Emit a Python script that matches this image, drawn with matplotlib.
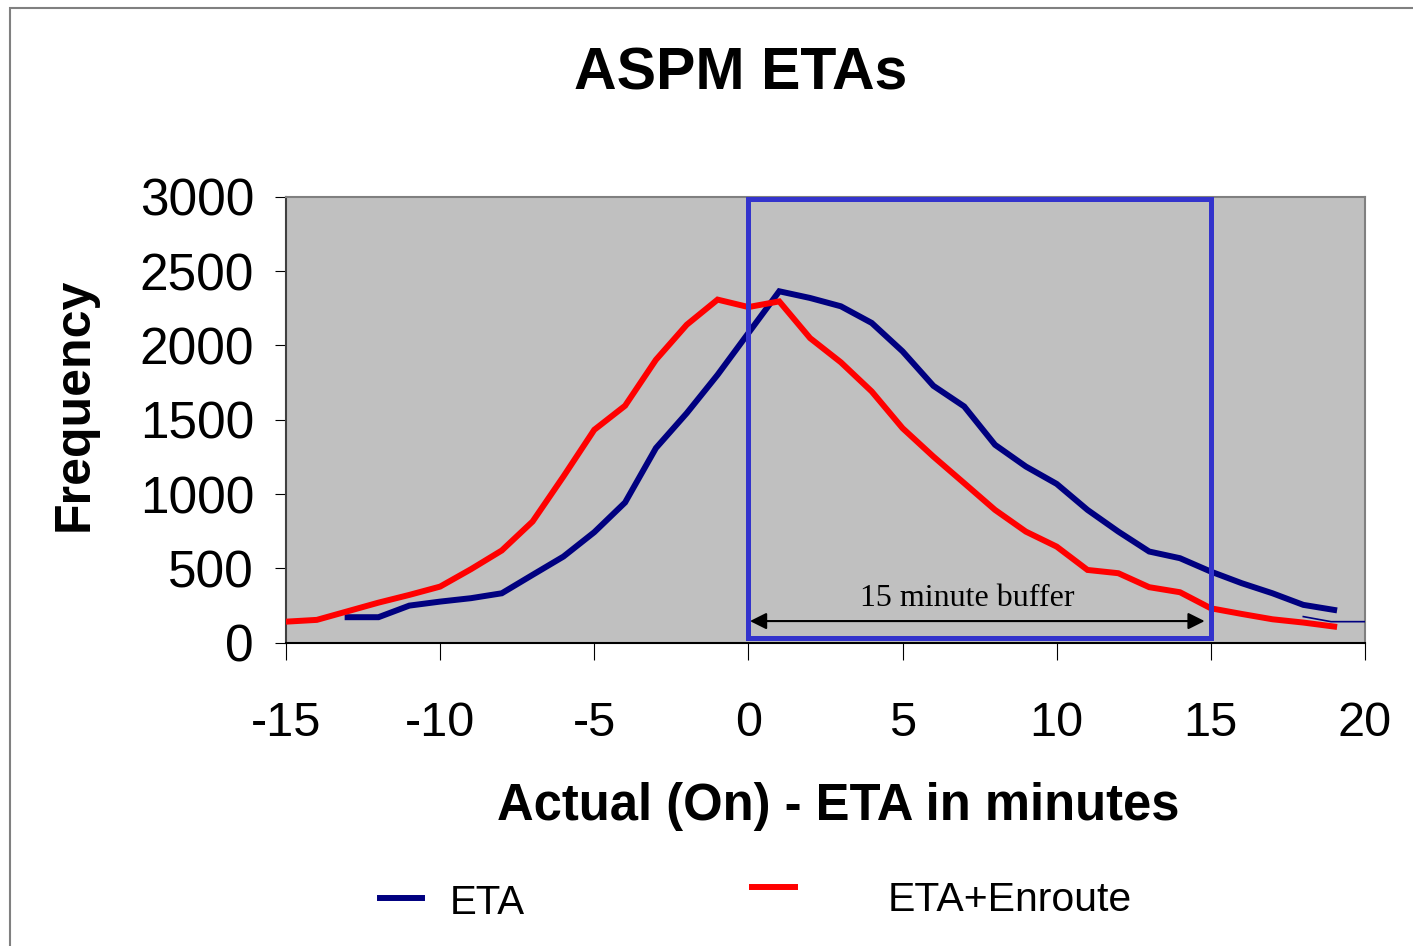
import matplotlib
matplotlib.use('Agg')
import matplotlib.pyplot as plt
from matplotlib.patches import Rectangle
from matplotlib.lines import Line2D

plt.rcParams['font.family'] = ['Liberation Sans', 'DejaVu Sans']
plt.rcParams['axes.unicode_minus'] = False

# minutes (actual on-time minus ETA)
eta_x = list(range(-13, 20))
eta_y = [171, 171, 249, 276, 299, 332, 456, 579, 743, 943, 1309, 1544, 1802, 2083,
         2364, 2319, 2263, 2151, 1960, 1728, 1589, 1331, 1185, 1068, 893, 747, 613,
         568, 478, 400, 332, 254, 220]

enroute_x = list(range(-15, 20))
enroute_y = [141, 153, 211, 269, 321, 377, 494, 620, 815, 1118, 1432, 1594, 1903,
             2139, 2308, 2258, 2296, 2049, 1886, 1690, 1443, 1252, 1073, 893, 747,
             646, 489, 467, 373, 339, 231, 193, 157, 135, 108]

# short thin tail at the right edge
tail_x = [18, 18.9, 20]
tail_y = [175, 141, 141]

buffer_start, buffer_end = 0, 15

fig = plt.figure(figsize=(14.13, 9.46), dpi=100)
ax = fig.add_axes([0.2024, 0.3207, 0.7636, 0.4713])
ax.set_facecolor('#C0C0C0')

ax.plot(eta_x, eta_y, color='#000080', lw=4.3, solid_joinstyle='miter', zorder=3)
ax.plot(enroute_x, enroute_y, color='#FF0000', lw=4.3, solid_joinstyle='miter', zorder=3)
ax.plot(tail_x, tail_y, color='#000080', lw=1.2, zorder=3)

# buffer box
ax.add_patch(Rectangle((buffer_start, 30), buffer_end - buffer_start, 2955,
                       fill=False, edgecolor='#3333CC', lw=3.6, zorder=4))
ax.annotate('', xy=(buffer_start + 0.05, 145), xytext=(buffer_end - 0.2, 145),
            arrowprops=dict(arrowstyle='<|-|>', color='black', lw=1.5,
                            mutation_scale=25, shrinkA=0, shrinkB=0), zorder=5)
ax.text(7.1, 300, '15 minute buffer', family='Liberation Serif', fontsize=23,
        ha='center', va='center', zorder=5)

ax.set_xlim(-15, 20)
ax.set_ylim(0, 3000)
ax.set_xticks(range(-15, 21, 5))
ax.set_yticks(range(0, 3001, 500))
ax.tick_params(axis='y', labelsize=37, length=8, pad=15)
ax.tick_params(axis='x', labelsize=35, length=12, pad=30)

for side in ['top', 'right']:
    ax.spines[side].set_color('#808080')
ax.spines['left'].set_color('#404040')
ax.spines['bottom'].set_color('black')
for s in ax.spines.values():
    s.set_linewidth(1.5)

fig.text(0.524, 0.922, 'ASPM ETAs', fontsize=42.5, fontweight='bold',
         ha='center', va='center')
fig.text(0.593, 0.147, 'Actual (On) - ETA in minutes', fontsize=36.5,
         fontweight='bold', ha='center', va='center')
fig.text(0.053, 0.573, 'Frequency', fontsize=36, fontweight='bold',
         rotation=90, ha='center', va='center')

# legend entries
fig.add_artist(Line2D([380 / 1413, 422 / 1413], [1 - 898 / 946] * 2,
                      color='#000080', lw=4.3))
fig.text(450 / 1413, 1 - 903 / 946, 'ETA', fontsize=29, va='center')
fig.add_artist(Line2D([752 / 1413, 795 / 1413], [1 - 887 / 946] * 2,
                      color='#FF0000', lw=4.3))
fig.text(888 / 1413, 1 - 900 / 946, 'ETA+Enroute', fontsize=29.5, va='center')

# outer chart border
fig.add_artist(Rectangle((10 / 1413, -0.1), 1.2, 1.1 - 8 / 946, fill=False,
                         edgecolor='#808080', lw=1.5, transform=fig.transFigure,
                         clip_on=False))

fig.savefig('out.png', dpi=100)
